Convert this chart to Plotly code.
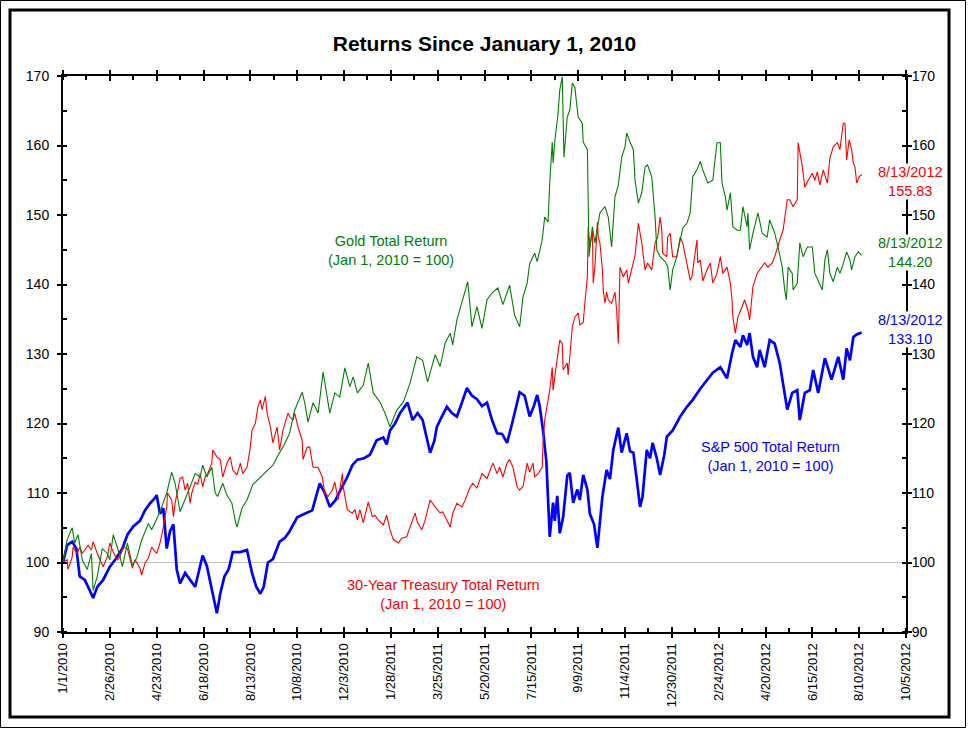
import pandas as pd
import plotly.graph_objects as go

TITLE = "Returns Since January 1, 2010"
X_TICK_LABELS = ["1/1/2010", "2/26/2010", "4/23/2010", "6/18/2010", "8/13/2010",
                 "10/8/2010", "12/3/2010", "1/28/2011", "3/25/2011", "5/20/2011",
                 "7/15/2011", "9/9/2011", "11/4/2011", "12/30/2011", "2/24/2012",
                 "4/20/2012", "6/15/2012", "8/10/2012", "10/5/2012"]
Y_RANGE = [90, 170]
BASE_VALUE = 100

SP500 = [
    ("2010-01-01", 100.0), ("2010-01-06", 102.5), ("2010-01-12", 103.0), ("2010-01-17", 102.0),
    ("2010-01-21", 98.0), ("2010-01-27", 97.5), ("2010-02-02", 96.0), ("2010-02-06", 94.9),
    ("2010-02-11", 96.5), ("2010-02-18", 97.5), ("2010-02-26", 99.4), ("2010-03-05", 100.5),
    ("2010-03-13", 102.0), ("2010-03-19", 104.0), ("2010-03-26", 105.2), ("2010-04-03", 106.0),
    ("2010-04-09", 107.5), ("2010-04-15", 108.5), ("2010-04-21", 109.3), ("2010-04-23", 109.7),
    ("2010-04-27", 107.0), ("2010-05-01", 107.8), ("2010-05-05", 102.0), ("2010-05-09", 104.5),
    ("2010-05-13", 105.5), ("2010-05-17", 99.0), ("2010-05-21", 97.0), ("2010-05-27", 98.5),
    ("2010-06-02", 97.5), ("2010-06-08", 96.5), ("2010-06-14", 99.5), ("2010-06-17", 101.0),
    ("2010-06-22", 99.5), ("2010-06-28", 96.0), ("2010-07-04", 92.7), ("2010-07-08", 95.5),
    ("2010-07-13", 98.0), ("2010-07-18", 99.0), ("2010-07-23", 101.5), ("2010-08-01", 101.5),
    ("2010-08-09", 101.8), ("2010-08-15", 98.5), ("2010-08-20", 96.5), ("2010-08-25", 95.5),
    ("2010-08-29", 96.5), ("2010-09-03", 100.0), ("2010-09-09", 100.5), ("2010-09-17", 103.0),
    ("2010-09-23", 103.5), ("2010-09-29", 104.5), ("2010-10-08", 106.5), ("2010-10-17", 107.0),
    ("2010-10-26", 107.5), ("2010-11-04", 111.4), ("2010-11-10", 110.0), ("2010-11-16", 108.0),
    ("2010-11-23", 109.0), ("2010-11-29", 110.5), ("2010-12-07", 112.3), ("2010-12-13", 114.0),
    ("2010-12-19", 114.8), ("2010-12-27", 115.0), ("2011-01-03", 115.5), ("2011-01-11", 117.6),
    ("2011-01-19", 118.0), ("2011-01-23", 117.0), ("2011-01-27", 119.0), ("2011-02-02", 120.0),
    ("2011-02-08", 121.5), ("2011-02-14", 122.5), ("2011-02-17", 123.0), ("2011-02-23", 120.5),
    ("2011-03-01", 121.5), ("2011-03-07", 120.5), ("2011-03-16", 115.8), ("2011-03-21", 117.5),
    ("2011-03-24", 119.5), ("2011-03-30", 121.0), ("2011-04-05", 122.4), ("2011-04-11", 121.5),
    ("2011-04-17", 121.0), ("2011-04-23", 123.0), ("2011-04-29", 125.1), ("2011-05-05", 124.0),
    ("2011-05-11", 123.5), ("2011-05-17", 122.5), ("2011-05-23", 123.0), ("2011-05-29", 120.5),
    ("2011-06-04", 118.6), ("2011-06-10", 118.5), ("2011-06-16", 117.2), ("2011-06-22", 120.0),
    ("2011-06-27", 122.5), ("2011-07-01", 124.5), ("2011-07-07", 124.0), ("2011-07-13", 121.0),
    ("2011-07-18", 122.5), ("2011-07-22", 124.1), ("2011-07-25", 122.5), ("2011-07-29", 119.0),
    ("2011-08-02", 114.5), ("2011-08-04", 110.0), ("2011-08-06", 103.7), ("2011-08-10", 108.6),
    ("2011-08-12", 106.0), ("2011-08-15", 109.6), ("2011-08-18", 104.2), ("2011-08-22", 106.5),
    ("2011-08-27", 112.5), ("2011-08-30", 112.9), ("2011-09-03", 108.6), ("2011-09-08", 110.5),
    ("2011-09-11", 109.0), ("2011-09-15", 112.6), ("2011-09-20", 110.5), ("2011-09-23", 107.0),
    ("2011-09-28", 105.5), ("2011-10-02", 102.1), ("2011-10-08", 109.5), ("2011-10-13", 113.3),
    ("2011-10-17", 112.0), ("2011-10-21", 116.2), ("2011-10-27", 119.4), ("2011-10-31", 115.8),
    ("2011-11-06", 118.6), ("2011-11-10", 116.0), ("2011-11-14", 115.8), ("2011-11-18", 112.0),
    ("2011-11-22", 108.0), ("2011-11-25", 109.5), ("2011-11-30", 116.2), ("2011-12-04", 115.0),
    ("2011-12-07", 117.2), ("2011-12-12", 115.0), ("2011-12-16", 112.6), ("2011-12-21", 115.5),
    ("2011-12-24", 118.1), ("2011-12-31", 119.0), ("2012-01-09", 121.0), ("2012-01-17", 122.4),
    ("2012-01-24", 123.4), ("2012-02-02", 125.0), ("2012-02-10", 126.3), ("2012-02-17", 127.3),
    ("2012-02-26", 128.1), ("2012-03-05", 126.5), ("2012-03-11", 130.1), ("2012-03-15", 132.0),
    ("2012-03-21", 131.0), ("2012-03-24", 132.7), ("2012-03-29", 131.3), ("2012-04-01", 133.0),
    ("2012-04-05", 129.6), ("2012-04-10", 128.1), ("2012-04-13", 130.6), ("2012-04-19", 128.1),
    ("2012-04-25", 132.0), ("2012-05-01", 131.5), ("2012-05-07", 128.7), ("2012-05-11", 125.8),
    ("2012-05-16", 122.0), ("2012-05-22", 124.4), ("2012-05-28", 124.8), ("2012-05-31", 120.5),
    ("2012-06-06", 124.4), ("2012-06-12", 124.8), ("2012-06-16", 127.7), ("2012-06-22", 124.4),
    ("2012-06-30", 129.4), ("2012-07-08", 126.3), ("2012-07-16", 129.6), ("2012-07-22", 126.3),
    ("2012-07-26", 130.8), ("2012-07-30", 129.1), ("2012-08-03", 132.4), ("2012-08-07", 132.8),
    ("2012-08-13", 133.10),
]

GOLD = [
    ("2010-01-01", 100.0), ("2010-01-06", 103.3), ("2010-01-12", 105.0), ("2010-01-15", 102.8),
    ("2010-01-19", 104.0), ("2010-01-24", 100.4), ("2010-01-30", 99.0), ("2010-02-04", 101.3),
    ("2010-02-06", 96.0), ("2010-02-11", 98.0), ("2010-02-17", 102.0), ("2010-02-23", 101.3),
    ("2010-02-26", 100.4), ("2010-03-02", 104.0), ("2010-03-08", 101.8), ("2010-03-13", 99.4),
    ("2010-03-19", 102.8), ("2010-03-25", 99.6), ("2010-03-30", 100.6), ("2010-04-05", 103.2),
    ("2010-04-13", 105.6), ("2010-04-17", 104.7), ("2010-04-27", 107.3), ("2010-05-05", 110.0),
    ("2010-05-11", 113.0), ("2010-05-15", 111.4), ("2010-05-21", 107.3), ("2010-05-27", 109.0),
    ("2010-06-02", 110.9), ("2010-06-08", 112.8), ("2010-06-14", 112.3), ("2010-06-17", 114.0),
    ("2010-06-22", 112.3), ("2010-06-28", 113.7), ("2010-07-02", 110.0), ("2010-07-05", 109.5),
    ("2010-07-11", 111.4), ("2010-07-16", 109.7), ("2010-07-22", 108.5), ("2010-07-26", 106.0),
    ("2010-07-28", 105.1), ("2010-08-03", 107.8), ("2010-08-09", 109.0), ("2010-08-16", 111.2),
    ("2010-08-25", 112.3), ("2010-09-02", 113.3), ("2010-09-09", 114.0), ("2010-09-15", 115.4),
    ("2010-09-21", 116.6), ("2010-09-29", 118.6), ("2010-10-05", 121.9), ("2010-10-14", 124.5),
    ("2010-10-17", 123.0), ("2010-10-21", 120.2), ("2010-10-27", 123.0), ("2010-11-02", 121.5),
    ("2010-11-08", 127.4), ("2010-11-16", 121.5), ("2010-11-22", 124.4), ("2010-11-28", 123.8),
    ("2010-12-04", 128.0), ("2010-12-10", 125.3), ("2010-12-14", 126.7), ("2010-12-19", 124.4),
    ("2010-12-26", 125.5), ("2011-01-01", 128.7), ("2011-01-07", 124.4), ("2011-01-15", 123.1),
    ("2011-01-21", 121.5), ("2011-01-27", 119.5), ("2011-02-04", 121.9), ("2011-02-12", 123.1),
    ("2011-02-20", 125.8), ("2011-02-28", 129.6), ("2011-03-07", 129.1), ("2011-03-13", 126.0),
    ("2011-03-22", 129.9), ("2011-03-28", 128.2), ("2011-04-03", 131.6), ("2011-04-09", 133.0),
    ("2011-04-12", 131.3), ("2011-04-17", 134.9), ("2011-04-24", 137.8), ("2011-04-30", 140.4),
    ("2011-05-05", 133.9), ("2011-05-11", 136.8), ("2011-05-17", 133.7), ("2011-05-23", 137.8),
    ("2011-05-30", 138.9), ("2011-06-05", 139.5), ("2011-06-11", 137.1), ("2011-06-19", 139.9),
    ("2011-06-25", 135.6), ("2011-07-01", 133.9), ("2011-07-05", 138.2), ("2011-07-10", 140.2),
    ("2011-07-13", 143.0), ("2011-07-19", 144.5), ("2011-07-22", 143.3), ("2011-07-28", 146.4),
    ("2011-07-31", 149.7), ("2011-08-04", 149.0), ("2011-08-06", 154.6), ("2011-08-09", 160.5),
    ("2011-08-10", 157.5), ("2011-08-12", 160.5), ("2011-08-16", 164.7), ("2011-08-18", 168.0),
    ("2011-08-21", 169.9), ("2011-08-23", 158.3), ("2011-08-27", 164.1), ("2011-08-30", 165.1),
    ("2011-09-02", 169.0), ("2011-09-05", 168.4), ("2011-09-09", 164.1), ("2011-09-14", 163.2),
    ("2011-09-15", 160.5), ("2011-09-20", 159.4), ("2011-09-22", 144.0), ("2011-09-26", 148.3),
    ("2011-09-29", 146.0), ("2011-10-05", 150.3), ("2011-10-11", 151.2), ("2011-10-15", 149.7),
    ("2011-10-19", 145.4), ("2011-10-23", 152.6), ("2011-10-27", 154.3), ("2011-10-31", 158.3),
    ("2011-11-04", 159.8), ("2011-11-06", 161.8), ("2011-11-10", 160.5), ("2011-11-14", 159.4),
    ("2011-11-16", 155.0), ("2011-11-18", 153.2), ("2011-11-20", 151.7), ("2011-11-24", 153.2),
    ("2011-11-28", 156.9), ("2011-12-01", 157.2), ("2011-12-06", 155.5), ("2011-12-10", 149.7),
    ("2011-12-12", 145.0), ("2011-12-16", 144.0), ("2011-12-22", 143.3), ("2011-12-25", 142.6),
    ("2011-12-28", 139.2), ("2011-12-31", 142.1), ("2012-01-05", 144.0), ("2012-01-09", 146.4),
    ("2012-01-12", 148.1), ("2012-01-17", 148.8), ("2012-01-21", 150.3), ("2012-01-24", 155.5),
    ("2012-01-29", 156.5), ("2012-02-02", 157.7), ("2012-02-05", 156.5), ("2012-02-11", 154.6),
    ("2012-02-17", 155.0), ("2012-02-20", 158.3), ("2012-02-22", 160.4), ("2012-02-26", 160.4),
    ("2012-02-28", 154.6), ("2012-03-03", 152.6), ("2012-03-05", 150.7), ("2012-03-09", 153.2),
    ("2012-03-12", 148.3), ("2012-03-17", 147.8), ("2012-03-21", 147.8), ("2012-03-24", 151.2),
    ("2012-03-29", 148.3), ("2012-03-30", 150.3), ("2012-04-01", 145.0), ("2012-04-05", 147.4),
    ("2012-04-11", 150.3), ("2012-04-16", 147.4), ("2012-04-22", 146.8), ("2012-04-25", 149.3),
    ("2012-05-01", 147.4), ("2012-05-05", 145.4), ("2012-05-10", 142.5), ("2012-05-13", 139.2),
    ("2012-05-15", 137.8), ("2012-05-17", 142.5), ("2012-05-22", 141.6), ("2012-05-23", 139.2),
    ("2012-05-28", 140.2), ("2012-05-31", 146.0), ("2012-06-04", 144.0), ("2012-06-09", 145.4),
    ("2012-06-15", 145.4), ("2012-06-18", 141.6), ("2012-06-22", 140.6), ("2012-06-27", 139.2),
    ("2012-06-30", 143.5), ("2012-07-03", 145.0), ("2012-07-06", 141.6), ("2012-07-10", 140.4),
    ("2012-07-15", 142.5), ("2012-07-18", 141.6), ("2012-07-22", 143.0), ("2012-07-26", 144.7),
    ("2012-07-30", 143.5), ("2012-08-01", 142.1), ("2012-08-05", 144.0), ("2012-08-09", 144.7),
    ("2012-08-13", 144.20),
]

TREASURY = [
    ("2010-01-01", 100.0), ("2010-01-06", 100.4), ("2010-01-07", 99.0), ("2010-01-12", 100.8),
    ("2010-01-13", 102.2), ("2010-01-18", 101.3), ("2010-01-21", 102.2), ("2010-01-24", 101.3),
    ("2010-01-27", 101.8), ("2010-01-31", 102.5), ("2010-02-04", 101.8), ("2010-02-06", 103.0),
    ("2010-02-11", 101.3), ("2010-02-14", 100.4), ("2010-02-18", 99.4), ("2010-02-23", 100.8),
    ("2010-02-26", 102.8), ("2010-03-02", 101.5), ("2010-03-07", 100.4), ("2010-03-10", 100.8),
    ("2010-03-14", 102.2), ("2010-03-19", 102.0), ("2010-03-22", 100.4), ("2010-03-25", 99.2),
    ("2010-03-28", 100.4), ("2010-04-03", 99.2), ("2010-04-05", 98.2), ("2010-04-09", 99.9),
    ("2010-04-13", 100.6), ("2010-04-17", 102.2), ("2010-04-23", 101.3), ("2010-04-27", 102.8),
    ("2010-05-01", 105.1), ("2010-05-05", 108.0), ("2010-05-06", 110.0), ("2010-05-11", 109.0),
    ("2010-05-13", 106.6), ("2010-05-15", 108.5), ("2010-05-19", 110.9), ("2010-05-21", 112.1),
    ("2010-05-24", 112.3), ("2010-05-27", 110.4), ("2010-05-30", 111.4), ("2010-06-02", 108.5),
    ("2010-06-04", 110.0), ("2010-06-08", 111.6), ("2010-06-11", 111.2), ("2010-06-14", 112.8),
    ("2010-06-17", 110.9), ("2010-06-20", 112.3), ("2010-06-23", 112.8), ("2010-06-28", 114.3),
    ("2010-06-29", 116.2), ("2010-07-04", 115.2), ("2010-07-08", 114.8), ("2010-07-11", 112.3),
    ("2010-07-16", 114.3), ("2010-07-20", 115.2), ("2010-07-23", 113.3), ("2010-07-28", 112.6),
    ("2010-08-01", 114.3), ("2010-08-04", 112.8), ("2010-08-09", 113.7), ("2010-08-13", 116.6),
    ("2010-08-15", 119.0), ("2010-08-19", 120.0), ("2010-08-22", 122.4), ("2010-08-25", 123.4),
    ("2010-08-27", 122.0), ("2010-08-31", 123.9), ("2010-09-02", 121.5), ("2010-09-06", 119.5),
    ("2010-09-09", 117.2), ("2010-09-14", 119.5), ("2010-09-17", 116.2), ("2010-09-21", 119.0),
    ("2010-09-27", 121.5), ("2010-09-29", 121.0), ("2010-10-03", 120.5), ("2010-10-05", 121.5),
    ("2010-10-09", 119.5), ("2010-10-14", 117.6), ("2010-10-15", 114.8), ("2010-10-20", 116.6),
    ("2010-10-23", 116.6), ("2010-10-27", 113.7), ("2010-11-02", 113.7), ("2010-11-07", 112.3),
    ("2010-11-10", 110.0), ("2010-11-14", 109.5), ("2010-11-19", 110.4), ("2010-11-22", 111.6),
    ("2010-11-26", 109.0), ("2010-12-01", 112.8), ("2010-12-02", 110.9), ("2010-12-07", 107.6),
    ("2010-12-13", 107.1), ("2010-12-16", 107.6), ("2010-12-19", 106.1), ("2010-12-22", 107.6),
    ("2010-12-26", 105.7), ("2011-01-01", 108.7), ("2011-01-06", 106.6), ("2011-01-09", 106.8),
    ("2011-01-13", 106.1), ("2011-01-19", 105.4), ("2011-01-23", 106.8), ("2011-01-27", 104.7),
    ("2011-01-31", 103.3), ("2011-02-06", 102.8), ("2011-02-10", 103.5), ("2011-02-16", 103.7),
    ("2011-02-20", 105.1), ("2011-02-26", 107.1), ("2011-03-01", 105.7), ("2011-03-06", 104.7),
    ("2011-03-10", 106.1), ("2011-03-16", 109.0), ("2011-03-22", 108.0), ("2011-03-28", 107.1),
    ("2011-03-31", 107.3), ("2011-04-05", 106.1), ("2011-04-09", 105.1), ("2011-04-12", 107.1),
    ("2011-04-17", 108.5), ("2011-04-23", 108.0), ("2011-04-27", 109.0), ("2011-05-03", 110.9),
    ("2011-05-06", 111.4), ("2011-05-11", 110.7), ("2011-05-17", 112.8), ("2011-05-23", 112.1),
    ("2011-05-27", 113.3), ("2011-05-30", 114.3), ("2011-06-04", 112.8), ("2011-06-07", 113.7),
    ("2011-06-11", 112.3), ("2011-06-16", 114.3), ("2011-06-19", 114.8), ("2011-06-23", 113.7),
    ("2011-06-28", 110.9), ("2011-07-01", 110.4), ("2011-07-05", 110.9), ("2011-07-10", 114.3),
    ("2011-07-13", 113.0), ("2011-07-17", 114.3), ("2011-07-19", 112.3), ("2011-07-23", 112.8),
    ("2011-07-28", 113.7), ("2011-07-29", 117.2), ("2011-07-31", 120.5), ("2011-08-03", 123.0),
    ("2011-08-04", 123.8), ("2011-08-06", 124.8), ("2011-08-09", 128.1), ("2011-08-10", 124.8),
    ("2011-08-12", 126.7), ("2011-08-15", 129.1), ("2011-08-18", 132.0), ("2011-08-21", 131.5),
    ("2011-08-22", 127.7), ("2011-08-27", 128.7), ("2011-08-28", 127.0), ("2011-08-30", 129.6),
    ("2011-09-02", 133.9), ("2011-09-05", 135.3), ("2011-09-09", 135.9), ("2011-09-11", 134.2),
    ("2011-09-15", 134.5), ("2011-09-17", 137.3), ("2011-09-20", 141.1), ("2011-09-21", 148.3),
    ("2011-09-23", 145.4), ("2011-09-26", 147.8), ("2011-09-27", 140.2), ("2011-09-29", 142.5),
    ("2011-10-02", 149.0), ("2011-10-03", 146.8), ("2011-10-05", 146.0), ("2011-10-08", 142.1),
    ("2011-10-09", 139.2), ("2011-10-11", 137.3), ("2011-10-13", 138.9), ("2011-10-15", 137.8),
    ("2011-10-19", 137.3), ("2011-10-23", 138.9), ("2011-10-25", 136.3), ("2011-10-27", 131.5),
    ("2011-10-29", 142.5), ("2011-11-02", 141.1), ("2011-11-06", 142.1), ("2011-11-08", 140.2),
    ("2011-11-12", 142.1), ("2011-11-16", 144.2), ("2011-11-20", 148.8), ("2011-11-24", 146.0),
    ("2011-11-28", 142.1), ("2011-12-01", 143.1), ("2011-12-06", 142.1), ("2011-12-10", 146.0),
    ("2011-12-13", 146.8), ("2011-12-16", 149.7), ("2011-12-18", 147.8), ("2011-12-19", 144.5),
    ("2011-12-24", 144.0), ("2011-12-25", 146.8), ("2011-12-28", 147.4), ("2011-12-31", 144.0),
    ("2012-01-05", 144.0), ("2012-01-09", 146.8), ("2012-01-12", 146.0), ("2012-01-17", 143.1),
    ("2012-01-21", 140.6), ("2012-01-23", 141.1), ("2012-01-27", 144.5), ("2012-01-29", 146.4),
    ("2012-01-30", 143.1), ("2012-02-02", 143.5), ("2012-02-04", 141.6), ("2012-02-05", 140.5),
    ("2012-02-10", 142.1), ("2012-02-14", 143.1), ("2012-02-17", 140.2), ("2012-02-22", 141.6),
    ("2012-02-26", 144.0), ("2012-02-29", 141.6), ("2012-03-05", 142.5), ("2012-03-09", 140.2),
    ("2012-03-11", 137.8), ("2012-03-12", 135.3), ("2012-03-15", 133.0), ("2012-03-18", 135.3),
    ("2012-03-23", 136.8), ("2012-03-26", 137.8), ("2012-03-30", 136.3), ("2012-04-01", 134.9),
    ("2012-04-05", 139.7), ("2012-04-10", 141.6), ("2012-04-13", 142.1), ("2012-04-19", 143.1),
    ("2012-04-23", 142.5), ("2012-04-28", 143.1), ("2012-05-01", 144.0), ("2012-05-04", 145.4),
    ("2012-05-07", 146.4), ("2012-05-11", 147.8), ("2012-05-16", 152.2), ("2012-05-19", 152.2),
    ("2012-05-23", 151.2), ("2012-05-28", 152.2), ("2012-05-29", 160.4), ("2012-06-03", 157.0),
    ("2012-06-06", 154.0), ("2012-06-10", 155.0), ("2012-06-15", 156.0), ("2012-06-18", 155.0),
    ("2012-06-21", 156.2), ("2012-06-24", 154.3), ("2012-06-28", 156.5), ("2012-07-03", 154.6),
    ("2012-07-06", 158.2), ("2012-07-10", 159.8), ("2012-07-15", 160.4), ("2012-07-18", 159.4),
    ("2012-07-22", 163.2), ("2012-07-24", 163.2), ("2012-07-26", 157.9), ("2012-07-29", 160.8),
    ("2012-08-01", 159.4), ("2012-08-03", 157.5), ("2012-08-05", 156.9), ("2012-08-07", 154.6),
    ("2012-08-10", 155.5), ("2012-08-13", 155.83),
]

SERIES_LABELS = {
    "gold": "Gold Total Return<br>(Jan 1, 2010 = 100)",
    "treasury": "30-Year Treasury Total Return<br>(Jan 1, 2010 = 100)",
    "sp500": "S&P 500 Total Return<br>(Jan 1, 2010 = 100)",
}

GREEN, RED, BLUE = "#008000", "#FF0000", "#0000FF"
FONT = "Liberation Sans, Arial, sans-serif"

W, H = 969, 729
L, R, T, B = 63, 906, 76, 632  # plot area in pixels


def px(xp):
    return (xp - L) / (R - L)


def py(yp):
    return (B - yp) / (B - T)


def unzip(pairs):
    return pd.to_datetime([p[0] for p in pairs]), [p[1] for p in pairs]


tick_dates = pd.to_datetime(X_TICK_LABELS, format="%m/%d/%Y")
minor_dates = pd.date_range(tick_dates[0], tick_dates[-1], freq="28D")
x_range = [tick_dates[0].strftime("%Y-%m-%d"), tick_dates[-1].strftime("%Y-%m-%d")]

fig = go.Figure()
sx, sy = unzip(SP500)
gx, gy = unzip(GOLD)
tx, ty = unzip(TREASURY)
fig.add_trace(go.Scatter(x=sx, y=sy, mode="lines", line=dict(color=BLUE, width=2.7),
                         xaxis="x", yaxis="y", hoverinfo="skip"))
fig.add_trace(go.Scatter(x=gx, y=gy, mode="lines", line=dict(color=GREEN, width=1.1),
                         xaxis="x2", yaxis="y", hoverinfo="skip"))
fig.add_trace(go.Scatter(x=tx, y=ty, mode="lines", line=dict(color=RED, width=1.1),
                         xaxis="x", yaxis="y2", hoverinfo="skip"))

fig.add_hline(y=BASE_VALUE, line_color="#C0C0C0", line_width=1.2, layer="below")

axis_common = dict(showgrid=False, zeroline=False, linecolor="black", linewidth=2,
                   tickcolor="black", tickwidth=2, showline=True)
xcommon = dict(type="date", range=x_range, tickvals=tick_dates, **axis_common)
ycommon = dict(range=Y_RANGE, tickmode="linear", tick0=Y_RANGE[0], dtick=10, **axis_common)
minor_x = dict(tickvals=minor_dates, ticks="inside", ticklen=4, tickwidth=2, tickcolor="black", showgrid=False)
minor_y = dict(tick0=Y_RANGE[0], dtick=5, ticks="inside", ticklen=4, tickwidth=2, tickcolor="black", showgrid=False)

fig.update_layout(
    width=W, height=H,
    margin=dict(l=L, r=W - R, t=T, b=H - B, autoexpand=False),
    paper_bgcolor="white", plot_bgcolor="white", showlegend=False,
    font=dict(family=FONT, color="black"),
    title=dict(text="<b>" + TITLE + "</b>", x=0.5, xanchor="center", y=1 - 44 / H, yanchor="middle",
               font=dict(size=21, family=FONT, color="black")),
    xaxis=dict(**xcommon, ticktext=X_TICK_LABELS, tickangle=-90, ticks="outside", ticklen=4,
               mirror="ticks", tickfont=dict(size=13, family=FONT), minor=minor_x),
    xaxis2=dict(**xcommon, overlaying="x", anchor="y", side="bottom", ticks="inside", ticklen=5,
                showticklabels=False, mirror="ticks"),
    yaxis=dict(**ycommon, side="left", ticks="outside", ticklen=4, tickfont=dict(size=14, family=FONT),
               ticklabelstandoff=5, minor=minor_y),
    yaxis2=dict(**ycommon, overlaying="y", anchor="x", side="right", ticks="outside", ticklen=4,
                tickfont=dict(size=14, family=FONT), ticklabelstandoff=-3, minor=minor_y),
    yaxis3=dict(**ycommon, overlaying="y", anchor="x", side="left", ticks="inside", ticklen=5,
                showticklabels=False, mirror="ticks"),
)

# frames
fig.add_shape(type="rect", xref="paper", yref="paper", x0=px(0.5), x1=px(965.5), y0=py(727.5), y1=py(0.5),
              line=dict(color="black", width=1), layer="below")
fig.add_shape(type="rect", xref="paper", yref="paper", x0=px(10), x1=px(949), y0=py(717), y1=py(10),
              line=dict(color="black", width=3), layer="below")

label_font = dict(family=FONT, size=14.5)
for text, color, xpix, ypix in [(SERIES_LABELS["gold"], GREEN, 391, 250),
                                (SERIES_LABELS["treasury"], RED, 443, 594),
                                (SERIES_LABELS["sp500"], BLUE, 770, 456)]:
    fig.add_annotation(xref="paper", yref="paper", x=px(xpix), y=py(ypix), text=text,
                       xanchor="center", yanchor="middle", showarrow=False,
                       font=dict(**label_font, color=color), align="center")


def end_label(dates, vals):
    d = dates[-1]
    return f"{d.month}/{d.day}/{d.year}<br>{vals[-1]:.2f}"


for (dts, vals, color, ypix) in [(tx, ty, RED, 181), (gx, gy, GREEN, 252), (sx, sy, BLUE, 329)]:
    fig.add_annotation(xref="paper", yref="paper", x=px(910), y=py(ypix), text=end_label(dts, vals),
                       xanchor="center", yanchor="middle", showarrow=False, borderpad=0,
                       font=dict(**label_font, color=color), align="center", bgcolor="white")

fig.write_html("out.html", config={"displayModeBar": False},
               post_script="document.body.style.margin='0';")
